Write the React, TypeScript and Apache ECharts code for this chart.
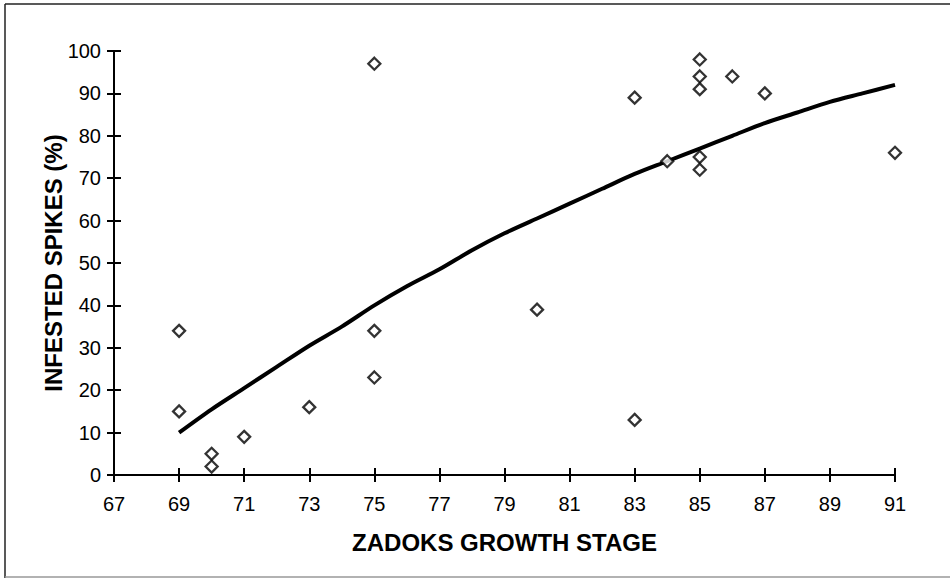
import React, { useEffect, useRef } from "react";
import * as echarts from "echarts";

const xTickMin = 67;
const xTickMax = 91;
const xTickStep = 2;
const yTickMin = 0;
const yTickMax = 100;
const yTickStep = 10;

const obsStages = [69, 69, 70, 70, 71, 73, 75, 75, 75, 80, 83, 83, 84, 85, 85, 85, 85, 85, 86, 87, 91];
const obsInfested = [34, 15, 5, 2, 9, 16, 97, 34, 23, 39, 89, 13, 74, 98, 94, 91, 75, 72, 94, 90, 76];

const trendStages = [69, 70, 71, 72, 73, 74, 75, 76, 77, 78, 79, 80, 81, 82, 83, 84, 85, 86, 87, 88, 89, 90, 91];
const trendValues = [10, 15.5, 20.5, 25.5, 30.5, 35, 40, 44.5, 48.5, 53, 57, 60.5, 64, 67.5, 71, 74, 77, 80, 83, 85.5, 88, 90, 92];

const xTitle = "ZADOKS GROWTH STAGE";
const yTitle = "INFESTED SPIKES (%)";

const FONT = "'Liberation Sans', Arial, Helvetica, sans-serif";

export default function App() {
  const ref = useRef<HTMLDivElement>(null);

  useEffect(() => {
    document.body.style.margin = "0";
    if (!ref.current) return;
    const chart = echarts.init(ref.current, undefined, { renderer: "svg" });

    const scatterData = obsStages.map((s, i) => [s, obsInfested[i]]);
    const trendData = trendStages.map((s, i) => [s, trendValues[i]]);

    const baseX = {
      type: "value" as const,
      min: xTickMin,
      max: xTickMax,
      interval: xTickStep,
      position: "bottom" as const,
      splitLine: { show: false },
    };
    const baseY = {
      type: "value" as const,
      min: yTickMin,
      max: yTickMax,
      interval: yTickStep,
      position: "left" as const,
      splitLine: { show: false },
    };

    chart.setOption({
      animation: false,
      backgroundColor: "#ffffff",
      textStyle: { fontFamily: FONT },
      grid: { left: 114, right: 55, top: 51, bottom: 103, containLabel: false },
      xAxis: [
        {
          ...baseX,
          name: xTitle,
          nameLocation: "middle",
          nameGap: 55,
          nameTextStyle: { fontFamily: FONT, fontSize: 24, fontWeight: "bold", color: "#000" },
          axisLine: { show: true, lineStyle: { color: "#000", width: 2 } },
          axisTick: { show: true, inside: false, length: 7, lineStyle: { color: "#000", width: 2 } },
          axisLabel: { show: true, margin: 19, fontFamily: FONT, fontSize: 20, color: "#000" },
        },
        {
          ...baseX,
          axisLine: { show: false },
          axisTick: { show: true, inside: true, length: 7, lineStyle: { color: "#000", width: 2 } },
          axisLabel: { show: false },
        },
      ],
      yAxis: [
        {
          ...baseY,
          name: yTitle,
          nameLocation: "middle",
          nameGap: 49,
          nameMoveOverlap: false,
          nameRotate: 90,
          nameTextStyle: { fontFamily: FONT, fontSize: 24, fontWeight: "bold", color: "#000" },
          axisLine: { show: true, lineStyle: { color: "#000", width: 2 } },
          axisTick: { show: true, inside: false, length: 7, lineStyle: { color: "#000", width: 2 } },
          axisLabel: { show: true, margin: 13, fontFamily: FONT, fontSize: 20, color: "#000" },
        },
        {
          ...baseY,
          axisLine: { show: false },
          axisTick: { show: true, inside: true, length: 7, lineStyle: { color: "#000", width: 2 } },
          axisLabel: { show: false },
        },
      ],
      series: [
        {
          type: "line",
          xAxisIndex: 0,
          yAxisIndex: 0,
          data: trendData,
          smooth: 0.3,
          showSymbol: false,
          symbol: "none",
          lineStyle: { color: "#000", width: 4 },
          z: 2,
        },
        {
          type: "scatter",
          xAxisIndex: 0,
          yAxisIndex: 0,
          data: scatterData,
          symbol: "diamond",
          symbolSize: 12,
          itemStyle: { color: "#ffffff", borderColor: "#000", borderWidth: 2.3 },
          z: 3,
        },
      ],
      graphic: [
        { type: "line", shape: { x1: 5, y1: 4, x2: 950, y2: 4 }, style: { stroke: "#222", lineWidth: 1.5 } },
        { type: "line", shape: { x1: 5, y1: 4, x2: 5, y2: 578 }, style: { stroke: "#222", lineWidth: 1.5 } },
        { type: "line", shape: { x1: 5, y1: 577, x2: 950, y2: 577 }, style: { stroke: "#999", lineWidth: 1.5 } },
      ],
    });

    return () => {
      chart.dispose();
    };
  }, []);

  return <div ref={ref} style={{ width: 950, height: 578 }} />;
}
